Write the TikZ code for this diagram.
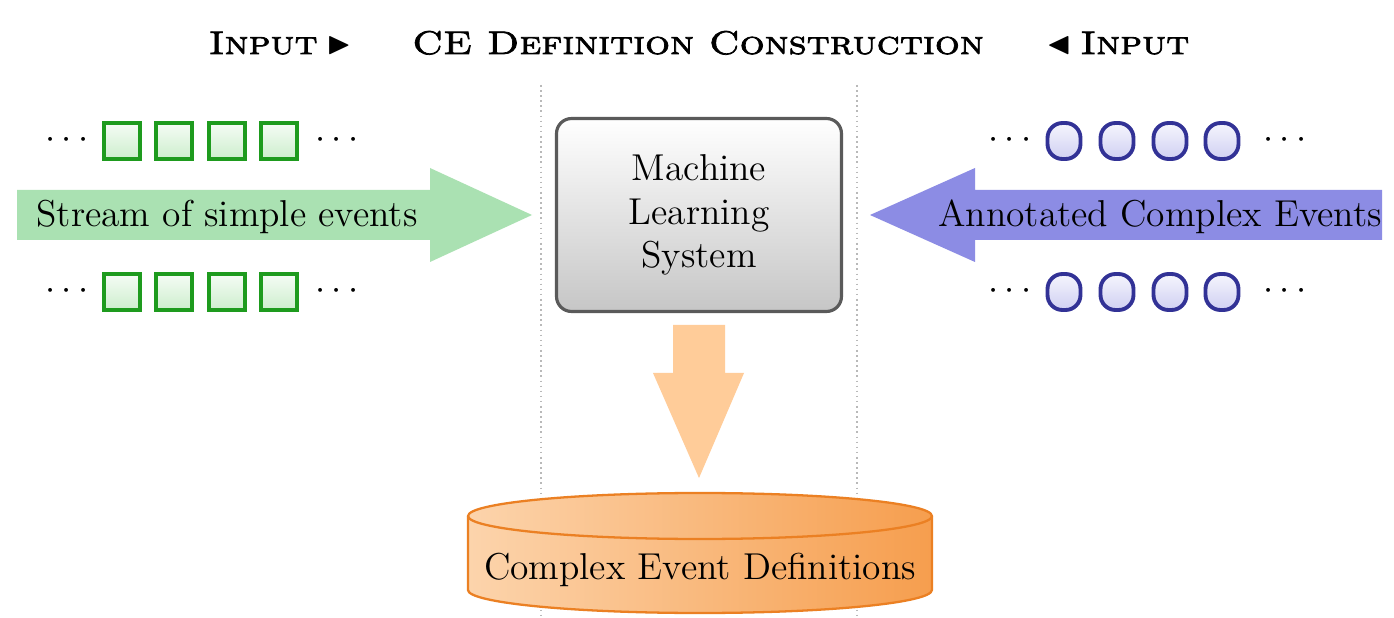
\documentclass[tikz,border=0pt]{standalone}
\usepackage{amssymb}
\usepackage{fontspec}
\setmainfont{lmroman12-regular.otf}
\newfontfamily\ttlfont{lmromancaps10-regular.otf}[FakeBold=2.2, FakeStretch=1.2]
\usetikzlibrary{shapes.geometric}
\definecolor{garrow}{RGB}{170,225,178}
\definecolor{barrow}{RGB}{140,140,228}
\definecolor{oarrow}{RGB}{255,204,153}
\definecolor{gborder}{RGB}{30,155,30}
\definecolor{gtop}{RGB}{245,252,245}
\definecolor{gbot}{RGB}{205,238,205}
\definecolor{bborder}{RGB}{50,50,150}
\definecolor{btop}{RGB}{245,245,253}
\definecolor{bbot}{RGB}{208,208,242}
\definecolor{mlborder}{RGB}{90,90,90}
\definecolor{mlbot}{RGB}{198,198,198}
\definecolor{cborder}{RGB}{235,128,35}
\definecolor{cleft}{RGB}{252,212,172}
\definecolor{cright}{RGB}{246,158,78}
\newcommand{\trir}{{\fontsize{18}{18}\selectfont$\blacktriangleright$}}
\newcommand{\tril}{{\fontsize{18}{18}\selectfont$\blacktriangleleft$}}
\begin{document}
\begin{tikzpicture}[x=0.02cm,y=-0.02cm,
  txt/.style={font=\fontsize{21.3}{24.9}\selectfont, inner sep=0pt},
  ttl/.style={font=\ttlfont\fontsize{18.6}{20}\selectfont, inner sep=0pt, anchor=base},
  gsq/.style={draw=gborder, line width=2.2pt, top color=gtop, bottom color=gbot, minimum size=0.72cm, inner sep=0pt},
  bsq/.style={draw=bborder, line width=2.2pt, rounded corners=0.3cm, top color=btop, bottom color=bbot, minimum width=0.66cm, minimum height=0.72cm, inner sep=0pt},
  dotsn/.style={font=\fontsize{20}{20}\selectfont, inner sep=0pt, anchor=base},
  sep/.style={draw=gray!55, dotted, line width=0.9pt},
  mlbox/.style={txt, draw=mlborder, line width=1.8pt, rounded corners=0.3cm, top color=white, bottom color=mlbot, minimum width=5.7cm, minimum height=3.86cm, align=center},
  cyl/.style={draw=cborder, line width=1.3pt}]
\useasboundingbox (0,0) rectangle (1394,618);
\fill[white] (0,0) rectangle (1394,618);
% separators
\coordinate (s1t) at (541,85); \coordinate (s1b) at (541,618);
\coordinate (s2t) at (857,85); \coordinate (s2b) at (857,618);
\draw[sep] (s1t) -- (s1b);
\draw[sep] (s2t) -- (s2b);
% titles
\node[ttl] (in1) at (280,54) {Input\hspace{0.18cm}\trir};
\node[ttl] (ced) at (698,54) {CE Definition Construction};
\node[ttl] (in2) at (1118,54) {\tril\hspace{0.18cm}Input};
% green squares
\foreach \x [count=\i] in {122,174,227,279} {
  \node[gsq] (g\i) at (\x,141) {};
  \node[gsq] (h\i) at (\x,292) {};
}
\node[dotsn] (gl1) at (67,149) {$\cdots$};
\node[dotsn] (gr1) at (337,149) {$\cdots$};
\node[dotsn] (gl2) at (67,300) {$\cdots$};
\node[dotsn] (gr2) at (337,300) {$\cdots$};
% blue rounded squares
\foreach \x [count=\i] in {1064,1117,1170,1222} {
  \node[bsq] (b\i) at (\x,141) {};
  \node[bsq] (c\i) at (\x,292) {};
}
\node[dotsn] (bl1) at (1010,149) {$\cdots$};
\node[dotsn] (br1) at (1285,149) {$\cdots$};
\node[dotsn] (bl2) at (1010,300) {$\cdots$};
\node[dotsn] (br2) at (1285,300) {$\cdots$};
% big arrows
\fill[garrow] (17,190) -- (430,190) -- (430,168) -- (532,215) -- (430,262) -- (430,240) -- (17,240) -- cycle;
\node[txt] (stream) at (227,217) {Stream of simple events};
\fill[barrow] (1382,190) -- (975,190) -- (975,168) -- (870,215) -- (975,262) -- (975,240) -- (1382,240) -- cycle;
\node[txt] (annot) at (1160,217) {Annotated Complex Events};
% ML box
\node[mlbox] (mls) at (699,215) {Machine\\Learning\\System};
% orange arrow
\fill[oarrow] (673,325) -- (725,325) -- (725,373) -- (744,373) -- (699,478) -- (653,373) -- (673,373) -- cycle;
% cylinder
\shade[left color=cleft, right color=cright] (468,516) -- (468,590) arc[start angle=180, end angle=360, x radius=4.64cm, y radius=0.46cm] -- (932,516) arc[start angle=0, end angle=180, x radius=4.64cm, y radius=0.46cm] -- cycle;
\draw[cyl] (468,516) -- (468,590) arc[start angle=180, end angle=360, x radius=4.64cm, y radius=0.46cm] -- (932,516);
\draw[cyl] (700,516) ellipse [x radius=4.64cm, y radius=0.46cm];
\node[txt] (cedef) at (700,570) {Complex Event Definitions};
\end{tikzpicture}
\end{document}
